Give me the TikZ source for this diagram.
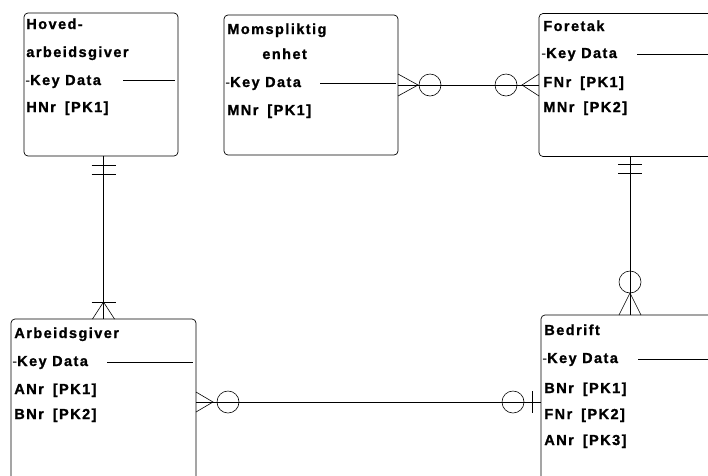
\documentclass[tikz,border=0pt]{standalone}
\usepackage{fontspec}
\newfontfamily\erfont{Liberation Sans}[LetterSpace=10,BoldFont={Liberation Sans Bold},BoldFeatures={FakeBold=1.2}]
\usetikzlibrary{calc}
\tikzset{
  ent/.style={draw, rounded corners=4pt, inner sep=0pt, outer sep=0pt},
  txt/.style={font=\erfont\bfseries\fontsize{14.5}{16}\selectfont, anchor=base west, inner sep=0pt},
  rel/.style={line width=0.6pt}
}
\newcommand{\kd}{{\mdseries-}Key Data}
\newcommand{\pkgap}{\hspace{9pt}}
\begin{document}
\begin{tikzpicture}[x=1pt,y=-1pt,line width=0.7pt]
\useasboundingbox (0,0) rectangle (708,475);
\clip (0,0) rectangle (708,475);
% entity boxes
\node[ent, minimum width=154pt, minimum height=143pt] (hoved) at (101,84.5) {};
\node[ent, minimum width=174pt, minimum height=140pt] (mom) at (311,85) {};
\node[ent, minimum width=182pt, minimum height=143pt] (foretak) at (630,85) {};
\node[ent, minimum width=185pt, minimum height=166pt] (arb) at (103.5,402) {};
\node[ent, minimum width=178pt, minimum height=174pt] (bedrift) at (630,402) {};
% texts: Hoved-arbeidsgiver
\node[txt] (h1) at (26,29) {Hoved-};
\node[txt] (h2t) at (26,57) {arbeidsgiver};
\node[txt] (h3) at (25,85) {\kd};
\node[txt] (h4) at (26,112) {HNr\pkgap[PK1]};
\draw (123,80) -- (175,80);
% Momspliktig enhet
\node[txt] (m1) at (227,34) {Momspliktig};
\node[txt] (m2) at (262,59) {enhet};
\node[txt] (m3) at (225,87) {\kd};
\node[txt] (m4) at (227,115) {MNr\pkgap[PK1]};
\draw (320,83) -- (396,83);
% Foretak
\node[txt] (f1) at (543,31) {Foretak};
\node[txt] (f2) at (541,58) {\kd};
\node[txt] (f3) at (543,87) {FNr\pkgap[PK1]};
\node[txt] (f4) at (543,112) {MNr\pkgap[PK2]};
\draw (637,54) -- (708,54);
% Arbeidsgiver
\node[txt] (a1) at (14,338) {Arbeidsgiver};
\node[txt] (a2) at (12,366) {\kd};
\node[txt] (a3) at (14,394) {ANr\pkgap[PK1]};
\node[txt] (a4) at (14,419) {BNr\pkgap[PK2]};
\draw (107,362) -- (193,362);
% Bedrift
\node[txt] (b1) at (544,335) {Bedrift};
\node[txt] (b2) at (542,363) {\kd};
\node[txt] (b3) at (544,393) {BNr\pkgap[PK1]};
\node[txt] (b4) at (544,419) {FNr\pkgap[PK2]};
\node[txt] (b5) at (544,445) {ANr\pkgap[PK3]};
\draw (638,359) -- (708,359);
% Relationship Momspliktig -- Foretak
\draw[rel] (mom.east) -- (foretak.west);
\draw[rel] ($(mom.east)+(0,-11)$) -- ($(mom.east)+(20,0)$) -- ($(mom.east)+(0,11)$);
\draw[rel] ($(mom.east)+(32,0)$) circle[radius=11pt];
\draw[rel] ($(foretak.west)+(-33,0)$) circle[radius=11pt];
\draw[rel] ($(foretak.west)+(0,-11)$) -- ($(foretak.west)+(-17,0)$) -- ($(foretak.west)+(0,11)$);
% Relationship Hoved-arbeidsgiver -- Arbeidsgiver
\coordinate (hs) at (hoved.south -| arb.north);
\draw[rel] (hs) -- (arb.north);
\draw[rel] ($(hs)+(-12,9)$) -- ($(hs)+(12,9)$);
\draw[rel] ($(hs)+(-12,18)$) -- ($(hs)+(12,18)$);
\draw[rel] ($(arb.north)+(-11,0)$) -- ($(arb.north)+(0,-17)$) -- ($(arb.north)+(11,0)$);
\draw[rel] ($(arb.north)+(-12,-17)$) -- ($(arb.north)+(12,-17)$);
% Relationship Foretak -- Bedrift
\draw[rel] (foretak.south) -- (bedrift.north);
\draw[rel] ($(foretak.south)+(-12,7.5)$) -- ($(foretak.south)+(12,7.5)$);
\draw[rel] ($(foretak.south)+(-12,16.5)$) -- ($(foretak.south)+(12,16.5)$);
\draw[rel] ($(bedrift.north)+(0,-33)$) circle[radius=11pt];
\draw[rel] ($(bedrift.north)+(-11,0)$) -- ($(bedrift.north)+(0,-22)$) -- ($(bedrift.north)+(11,0)$);
% Relationship Arbeidsgiver -- Bedrift
\draw[rel] (arb.east) -- (bedrift.west);
\draw[rel] ($(arb.east)+(0,-10)$) -- ($(arb.east)+(17,0)$) -- ($(arb.east)+(0,10)$);
\draw[rel] ($(arb.east)+(32,0)$) circle[radius=11pt];
\draw[rel] ($(bedrift.west)+(-28,0)$) circle[radius=11pt];
\draw[rel] ($(bedrift.west)+(-9,-11)$) -- ($(bedrift.west)+(-9,11)$);
\end{tikzpicture}
\end{document}
